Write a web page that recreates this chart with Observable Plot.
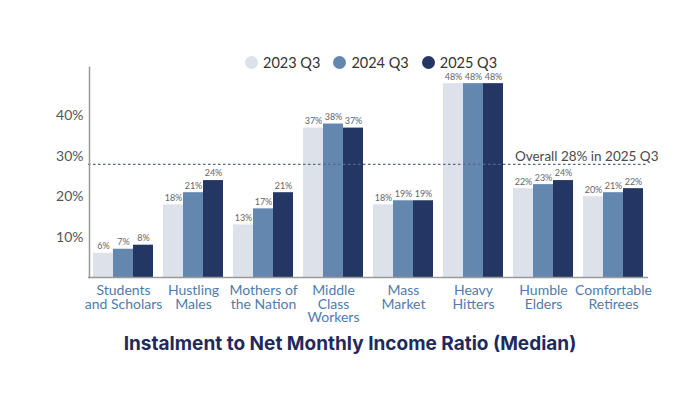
<!DOCTYPE html>
<html>
<head>
<meta charset="utf-8">
<script src="https://cdn.jsdelivr.net/npm/d3@7"></script>
<script src="https://cdn.jsdelivr.net/npm/@observablehq/plot@0.6"></script>
<style>
  html, body { margin: 0; padding: 0; background: #fff; }
  #wrap { position: relative; width: 700px; height: 394px; overflow: hidden; font-family: Lato, "Open Sans", sans-serif; }
  #chart { position: absolute; left: 0; top: 0; }
  #legend { position: absolute; top: 54px; left: 245px; display: flex; gap: 13px; font-size: 14.5px; color: #333; align-items: center; }
  #legend .item { display: flex; align-items: center; gap: 5px; }
  #legend .dot { width: 13px; height: 13px; border-radius: 50%; display: inline-block; }
  #title { position: absolute; top: 332px; left: 0; width: 700px; text-align: center; font-family: Inter, "Open Sans", sans-serif; font-weight: 700; font-size: 19px; color: #1f2a5c; }
</style>
</head>
<body>
<div id="wrap">
  <div id="chart"></div>
  <div id="legend"></div>
  <div id="title"></div>
</div>
<script>
const categories = ["Students and Scholars", "Hustling Males", "Mothers of the Nation", "Middle Class Workers", "Mass Market", "Heavy Hitters", "Humble Elders", "Comfortable Retirees"];
const tickLabels = ["Students\nand Scholars", "Hustling\nMales", "Mothers of\nthe Nation", "Middle\nClass\nWorkers", "Mass\nMarket", "Heavy\nHitters", "Humble\nElders", "Comfortable\nRetirees"];
const series = ["2023 Q3", "2024 Q3", "2025 Q3"];
const colors = ["#dde1ea", "#6487b0", "#243764"];
const v2023 = [6, 18, 13, 37, 18, 48, 22, 20];
const v2024 = [7, 21, 17, 38, 19, 48, 23, 21];
const v2025 = [8, 24, 21, 37, 19, 48, 24, 22];
const yTicks = [10, 20, 30, 40];
const overall = [{value: 28, label: "Overall 28% in 2025 Q3"}];
const titleText = "Instalment to Net Monthly Income Ratio (Median)";

const values = [v2023, v2024, v2025];
const data = categories.flatMap((c, i) => series.map((s, j) => ({category: c, series: s, value: values[j][i]})));

const chart = Plot.plot({
  width: 700,
  height: 330,
  marginTop: 67,
  marginLeft: 89,
  marginRight: 53,
  marginBottom: 53,
  style: {fontFamily: "Lato, 'Open Sans', sans-serif", background: "transparent"},
  fx: {domain: categories, paddingInner: 0.14, paddingOuter: 0.05, label: null, axis: null},
  x: {domain: series, padding: 0, axis: null},
  y: {domain: [0, 52], axis: null},
  color: {domain: series, range: colors},
  marks: [
    Plot.barY(data, {fx: "category", x: "series", y: "value", fill: "series"}),
    Plot.text(data, {fx: "category", x: "series", y: "value", text: d => d.value + "%", dy: -7, fontSize: 9, fill: "#666"}),
    Plot.ruleY(overall, {y: "value", insetLeft: -5, insetRight: -5, stroke: "#56668a", strokeWidth: 1.2, strokeDasharray: "2.5,2.5"}),
    Plot.text(overall, {y: "value", text: "label", facetAnchor: "right", frameAnchor: "right", textAnchor: "end", dx: 15, dy: -8, fontSize: 13.5, fill: "#4a4a4a"}),
    Plot.ruleY([0], {insetLeft: -5, insetRight: -5, stroke: "#999", strokeWidth: 1.5}),
    Plot.frame({anchor: "left", facetAnchor: "left", dx: -4, stroke: "#999", strokeWidth: 1.5}),
    Plot.axisY({ticks: yTicks, tickFormat: d => d + "%", tickSize: 0, tickPadding: 10, fontSize: 14, fill: "#555", label: null}),
    Plot.axisFx({anchor: "bottom", tickSize: 0, tickPadding: 8, fontSize: 14, fill: "#4f7cac", lineHeight: 0.97, label: null, tickFormat: d => tickLabels[categories.indexOf(d)]})
  ]
});
document.getElementById("chart").appendChild(chart);

const legend = document.getElementById("legend");
series.forEach((s, i) => {
  const item = document.createElement("span");
  item.className = "item";
  const dot = document.createElement("span");
  dot.className = "dot";
  dot.style.background = colors[i];
  const label = document.createElement("span");
  label.textContent = s;
  item.appendChild(dot);
  item.appendChild(label);
  legend.appendChild(item);
});
document.getElementById("title").textContent = titleText;
</script>
</body>
</html>
